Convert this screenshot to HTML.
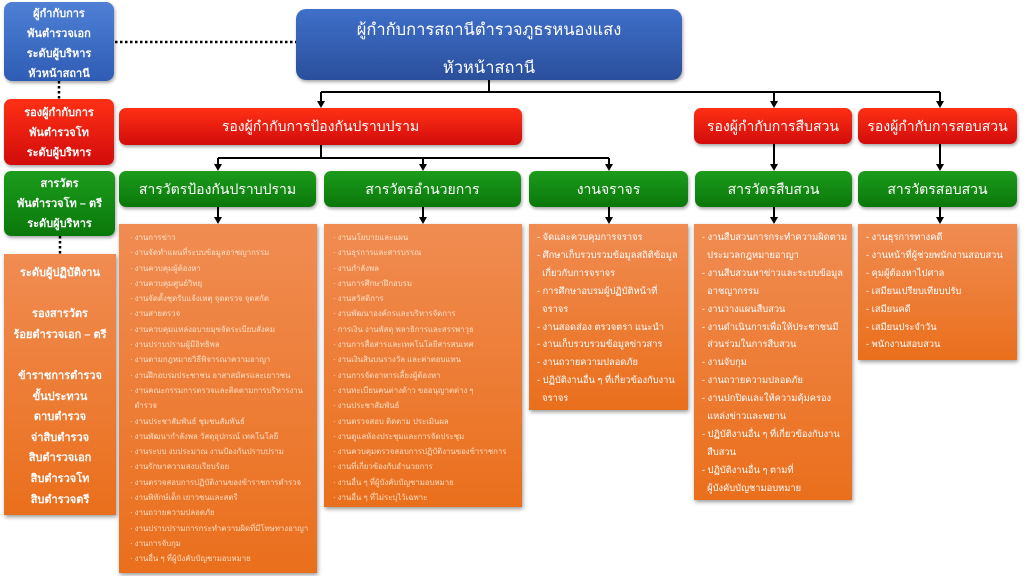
<!DOCTYPE html>
<html><head><meta charset="utf-8">
<style>
*{margin:0;padding:0;box-sizing:border-box}
html,body{width:1024px;height:576px;overflow:hidden;background:#fff}
body{position:relative;font-family:"Liberation Sans","DejaVu Sans",sans-serif;color:#fff}
.b{position:absolute;text-align:center}
.blue{background:linear-gradient(#4f80d6,#2f5cb4);border-radius:8px;box-shadow:1px 2px 3px rgba(0,0,0,.35)}
.blue2{background:linear-gradient(#3f6fc9,#2a4f9c);border-radius:10px;box-shadow:1px 2px 3px rgba(0,0,0,.35)}
.red{background:linear-gradient(#ff3014,#d20c0c);border-radius:7px;box-shadow:1px 2px 3px rgba(0,0,0,.35)}
.green{background:linear-gradient(#1c9c1c,#0a780a);border-radius:7px;box-shadow:1px 2px 3px rgba(0,0,0,.35)}
.or{background:linear-gradient(#f08c52,#ea6f1c);box-shadow:1px 2px 4px rgba(0,0,0,.4)}
.lt{font-size:11px;font-weight:bold;line-height:20px}
.hd{font-size:14px;line-height:36px}
.list{position:absolute;text-align:left;white-space:nowrap}
.sm{font-size:7.8px;line-height:15.3px;color:rgba(255,236,215,.88)}
.md{font-size:9.3px;line-height:17.9px;color:#fff}
.md div{padding-left:14px;text-indent:-6px}
.sm div{padding-left:14px;text-indent:-5px}
svg{position:absolute;left:0;top:0}
</style></head><body>

<svg width="1024" height="576" viewBox="0 0 1024 576">
<g stroke="#000" stroke-width="2.5" fill="none" stroke-dasharray="2.5 2.5">
<line x1="115" y1="42" x2="296" y2="42"/>
<line x1="59" y1="81" x2="59" y2="99"/>
<line x1="60" y1="236" x2="60" y2="254"/>
</g>
<g stroke="#000" stroke-width="2" fill="none">
<polyline points="489,80 489,92"/>
<line x1="321" y1="92" x2="940" y2="92"/>
<line x1="321" y1="92" x2="321" y2="102"/>
<line x1="774" y1="92" x2="774" y2="102"/>
<line x1="940" y1="92" x2="940" y2="102"/>
<line x1="321" y1="145" x2="321" y2="158"/>
<line x1="218" y1="158" x2="609" y2="158"/>
<line x1="218" y1="158" x2="218" y2="165"/>
<line x1="423" y1="158" x2="423" y2="165"/>
<line x1="609" y1="158" x2="609" y2="165"/>
<line x1="774" y1="144" x2="774" y2="165"/>
<line x1="940" y1="144" x2="940" y2="165"/>
<line x1="218" y1="207" x2="218" y2="218"/>
<line x1="423" y1="207" x2="423" y2="218"/>
<line x1="609" y1="207" x2="609" y2="218"/>
<line x1="774" y1="207" x2="774" y2="218"/>
<line x1="940" y1="207" x2="940" y2="218"/>
</g>
<g fill="#000">
<polygon points="317,101 325,101 321,108"/>
<polygon points="770,101 778,101 774,108"/>
<polygon points="936,101 944,101 940,108"/>
<polygon points="214,164 222,164 218,171"/>
<polygon points="419,164 427,164 423,171"/>
<polygon points="605,164 613,164 609,171"/>
<polygon points="770,164 778,164 774,171"/>
<polygon points="936,164 944,164 940,171"/>
<polygon points="214,217 222,217 218,224"/>
<polygon points="419,217 427,217 423,224"/>
<polygon points="605,217 613,217 609,224"/>
<polygon points="770,217 778,217 774,224"/>
<polygon points="936,217 944,217 940,224"/>
</g>
</svg>

<!-- left legend -->
<div class="b blue lt" style="left:4px;top:2px;width:110px;height:79px;padding-top:2px">ผู้กำกับการ<br>พันตำรวจเอก<br>ระดับผู้บริหาร<br>หัวหน้าสถานี</div>
<div class="b red lt" style="left:4px;top:99px;width:110px;height:66px;padding-top:4px">รองผู้กำกับการ<br>พันตำรวจโท<br>ระดับผู้บริหาร</div>
<div class="b green lt" style="left:4px;top:171px;width:111px;height:65px;padding-top:3px">สารวัตร<br>พันตำรวจโท – ตรี<br>ระดับผู้บริหาร</div>
<div class="b or lt" style="left:4px;top:254px;width:112px;height:261px;padding-top:9px;line-height:20.6px">ระดับผู้ปฏิบัติงาน<br><br>รองสารวัตร<br>ร้อยตำรวจเอก – ตรี<br><br>ข้าราชการตำรวจ<br>ขั้นประทวน<br>ดาบตำรวจ<br>จ่าสิบตำรวจ<br>สิบตำรวจเอก<br>สิบตำรวจโท<br>สิบตำรวจตรี</div>

<!-- main -->
<div class="b blue2" style="left:296px;top:9px;width:386px;height:71px;font-family:'Liberation Serif','DejaVu Serif',serif;font-size:16.5px">
<div style="line-height:20px;margin-top:11px">ผู้กำกับการสถานีตำรวจภูธรหนองแสง</div>
<div style="line-height:20px;margin-top:18px">หัวหน้าสถานี</div>
</div>

<!-- red row -->
<div class="b red hd" style="left:119px;top:108px;width:403px;height:37px;line-height:37px">รองผู้กำกับการป้องกันปราบปราม</div>
<div class="b red hd" style="left:694px;top:108px;width:158px;height:36px">รองผู้กำกับการสืบสวน</div>
<div class="b red hd" style="left:858px;top:108px;width:159px;height:36px">รองผู้กำกับการสอบสวน</div>

<!-- green row -->
<div class="b green hd" style="left:119px;top:171px;width:197px;height:36px">สารวัตรป้องกันปราบปราม</div>
<div class="b green hd" style="left:324px;top:171px;width:197px;height:36px">สารวัตรอำนวยการ</div>
<div class="b green hd" style="left:529px;top:171px;width:159px;height:36px">งานจราจร</div>
<div class="b green hd" style="left:695px;top:171px;width:157px;height:36px">สารวัตรสืบสวน</div>
<div class="b green hd" style="left:858px;top:171px;width:159px;height:36px">สารวัตรสอบสวน</div>

<!-- orange lists -->
<div class="list or sm" style="left:119px;top:224px;width:198px;height:349px;padding-top:6px;padding-left:2px">
<div>· งานการข่าว</div>
<div>· งานจัดทำแผนที่ระบบข้อมูลอาชญากรรม</div>
<div>· งานควบคุมผู้ต้องหา</div>
<div>· งานควบคุมศูนย์วิทยุ</div>
<div>· งานจัดตั้งชุดรับแจ้งเหตุ จุดตรวจ จุดสกัด</div>
<div>· งานสายตรวจ</div>
<div>· งานควบคุมแหล่งอบายมุขจัดระเบียบสังคม</div>
<div>· งานปราบปรามผู้มีอิทธิพล</div>
<div>· งานตามกฎหมายวิธีพิจารณาความอาญา</div>
<div>· งานฝึกอบรมประชาชน อาสาสมัครและเยาวชน</div>
<div>· งานคณะกรรมการตรวจและติดตามการบริหารงาน</div>
<div>&nbsp; ตำรวจ</div>
<div>· งานประชาสัมพันธ์ ชุมชนสัมพันธ์</div>
<div>· งานพัฒนากำลังพล วัสดุอุปกรณ์ เทคโนโลยี</div>
<div>· งานระบบ งบประมาณ งานป้องกันปราบปราม</div>
<div>· งานรักษาความสงบเรียบร้อย</div>
<div>· งานตรวจสอบการปฏิบัติงานของข้าราชการตำรวจ</div>
<div>· งานพิทักษ์เด็ก เยาวชนและสตรี</div>
<div>· งานถวายความปลอดภัย</div>
<div>· งานปราบปรามการกระทำความผิดที่มีโทษทางอาญา</div>
<div>· งานการจับกุม</div>
<div>· งานอื่น ๆ ที่ผู้บังคับบัญชามอบหมาย</div>
</div>

<div class="list or sm" style="left:324px;top:224px;width:198px;height:283px;padding-top:6px;padding-left:0px">
<div>· งานนโยบายและแผน</div>
<div>· งานธุรการและสารบรรณ</div>
<div>· งานกำลังพล</div>
<div>· งานการศึกษาฝึกอบรม</div>
<div>· งานสวัสดิการ</div>
<div>· งานพัฒนาองค์กรและบริหารจัดการ</div>
<div>· การเงิน งานพัสดุ พลาธิการและสรรพาวุธ</div>
<div>· งานการสื่อสารและเทคโนโลยีสารสนเทศ</div>
<div>· งานเงินสินบนรางวัล และค่าตอบแทน</div>
<div>· งานการจัดอาหารเลี้ยงผู้ต้องหา</div>
<div>· งานทะเบียนคนต่างด้าว ขออนุญาตต่าง ๆ</div>
<div>· งานประชาสัมพันธ์</div>
<div>· งานตรวจสอบ ติดตาม ประเมินผล</div>
<div>· งานดูแลห้องประชุมและการจัดประชุม</div>
<div>· งานควบคุมตรวจสอบการปฏิบัติงานของข้าราชการ</div>
<div>· งานที่เกี่ยวข้องกับอำนวยการ</div>
<div>· งานอื่น ๆ ที่ผู้บังคับบัญชามอบหมาย</div>
<div>· งานอื่น ๆ ที่ไม่ระบุไว้เฉพาะ</div>
</div>

<div class="list or md" style="left:529px;top:224px;width:159px;height:186px;padding-top:5px">
<div>- จัดและควบคุมการจราจร</div>
<div>- ศึกษาเก็บรวบรวมข้อมูลสถิติข้อมูล</div>
<div>&nbsp; เกี่ยวกับการจราจร</div>
<div>- การศึกษาอบรมผู้ปฏิบัติหน้าที่</div>
<div>&nbsp; จราจร</div>
<div>- งานสอดส่อง ตรวจตรา แนะนำ</div>
<div>- งานเก็บรวบรวมข้อมูลข่าวสาร</div>
<div>- งานถวายความปลอดภัย</div>
<div>- ปฏิบัติงานอื่น ๆ ที่เกี่ยวข้องกับงาน</div>
<div>&nbsp; จราจร</div>
</div>

<div class="list or md" style="left:694px;top:224px;width:158px;height:276px;padding-top:5px">
<div>- งานสืบสวนการกระทำความผิดตาม</div>
<div>&nbsp; ประมวลกฎหมายอาญา</div>
<div>- งานสืบสวนหาข่าวและระบบข้อมูล</div>
<div>&nbsp; อาชญากรรม</div>
<div>- งานวางแผนสืบสวน</div>
<div>- งานดำเนินการเพื่อให้ประชาชนมี</div>
<div>&nbsp; ส่วนร่วมในการสืบสวน</div>
<div>- งานจับกุม</div>
<div>- งานถวายความปลอดภัย</div>
<div>- งานปกปิดและให้ความคุ้มครอง</div>
<div>&nbsp; แหล่งข่าวและพยาน</div>
<div>- ปฏิบัติงานอื่น ๆ ที่เกี่ยวข้องกับงาน</div>
<div>&nbsp; สืบสวน</div>
<div>- ปฏิบัติงานอื่น ๆ ตามที่</div>
<div>&nbsp; ผู้บังคับบัญชามอบหมาย</div>
</div>

<div class="list or md" style="left:858px;top:224px;width:159px;height:136px;padding-top:5px">
<div>- งานธุรการทางคดี</div>
<div>- งานหน้าที่ผู้ช่วยพนักงานสอบสวน</div>
<div>- คุมผู้ต้องหาไปศาล</div>
<div>- เสมียนเปรียบเทียบปรับ</div>
<div>- เสมียนคดี</div>
<div>- เสมียนประจำวัน</div>
<div>- พนักงานสอบสวน</div>
</div>

</body></html>
